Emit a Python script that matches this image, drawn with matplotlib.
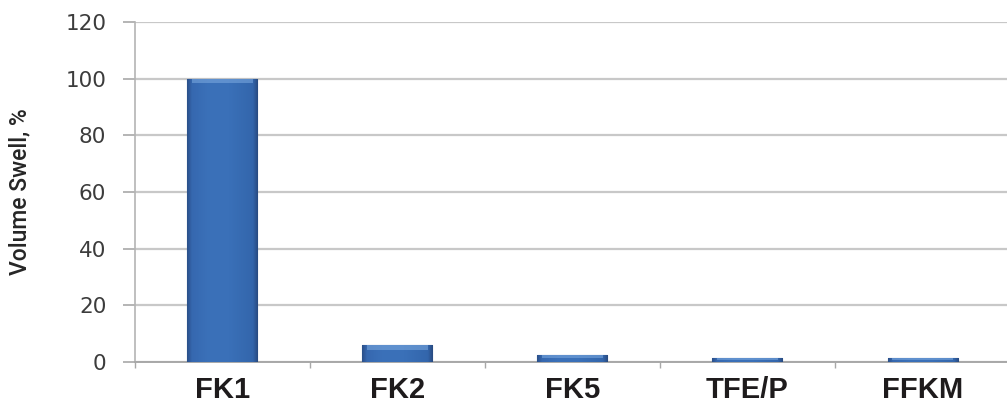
import numpy as np
import matplotlib
matplotlib.use("Agg")
import matplotlib.pyplot as plt
from matplotlib.colors import LinearSegmentedColormap

categories = ["FK1", "FK2", "FK5", "TFE/P", "FFKM"]
swell = [100, 6, 2.6, 1.4, 1.4]
yticks = [0, 20, 40, 60, 80, 100, 120]

fig = plt.figure(figsize=(10.07, 4.12), dpi=100)
ax = fig.add_axes([0.134, 0.1214, 0.869, 0.8252])

x = np.arange(len(categories))
bars = ax.bar(x, swell, width=0.4, color="#3a6fb6", edgecolor="#2b4f85",
              linewidth=0.8, zorder=3)

# horizontal shading across each bar: thin dark edges, even blue body
cmap = LinearSegmentedColormap.from_list(
    "barshade",
    [(0.0, "#2a4f88"), (0.07, "#3668b0"), (0.3, "#3b71b9"), (0.6, "#3a70b8"),
     (0.93, "#3366ac"), (1.0, "#284a80")])
grad = np.linspace(0, 1, 256).reshape(1, -1)
for b in bars:
    x0, y0 = b.get_x(), b.get_y()
    w, h = b.get_width(), b.get_height()
    im = ax.imshow(grad, cmap=cmap, aspect="auto",
                   extent=(x0, x0 + w, y0, y0 + h), zorder=4, interpolation="bilinear")
    im.set_clip_path(b)
    # lighter bevel along the top
    cap = min(h * 0.5, 1.6)
    ax.fill_between([x0 + w * 0.06, x0 + w * 0.94], y0 + h - cap, y0 + h,
                    color="#78a6dd", alpha=0.6, zorder=5, linewidth=0)

ax.set_xlim(-0.5, len(categories) - 0.5)
ax.set_ylim(0, 120)
ax.set_yticks(yticks)
ax.set_yticklabels([str(v) for v in yticks], fontsize=15.5, color="#3c3c3c",
                   family="DejaVu Sans")
ax.tick_params(axis="y", length=8.6, width=1.2, color="#a8a8a8", pad=12)

ax.set_xticks(x)
ax.set_xticklabels(categories, fontsize=21, fontweight="bold", color="#1e1b1c",
                   family="Liberation Sans")
ax.tick_params(axis="x", length=0, pad=10)
# category boundary ticks on the x axis
ax.set_xticks(np.arange(-0.5, len(categories), 1.0), minor=True)
ax.tick_params(axis="x", which="minor", length=4, width=1.0, color="#a8a8a8")

ax.grid(axis="y", color="#c8c8c8", linewidth=1.6, zorder=0)
for side in ["top", "right"]:
    ax.spines[side].set_visible(False)
ax.spines["left"].set_color("#b4b4b4")
ax.spines["left"].set_linewidth(1.2)
ax.spines["bottom"].set_color("#a8a8a8")
ax.spines["bottom"].set_linewidth(1.4)

fig.text(0.020, 0.534, "Volume Swell, %", rotation=90, va="center", ha="center",
         fontsize=16.5, fontweight="medium", color="#262626", family="Roboto")

fig.savefig("out.png", dpi=100, facecolor="white")
